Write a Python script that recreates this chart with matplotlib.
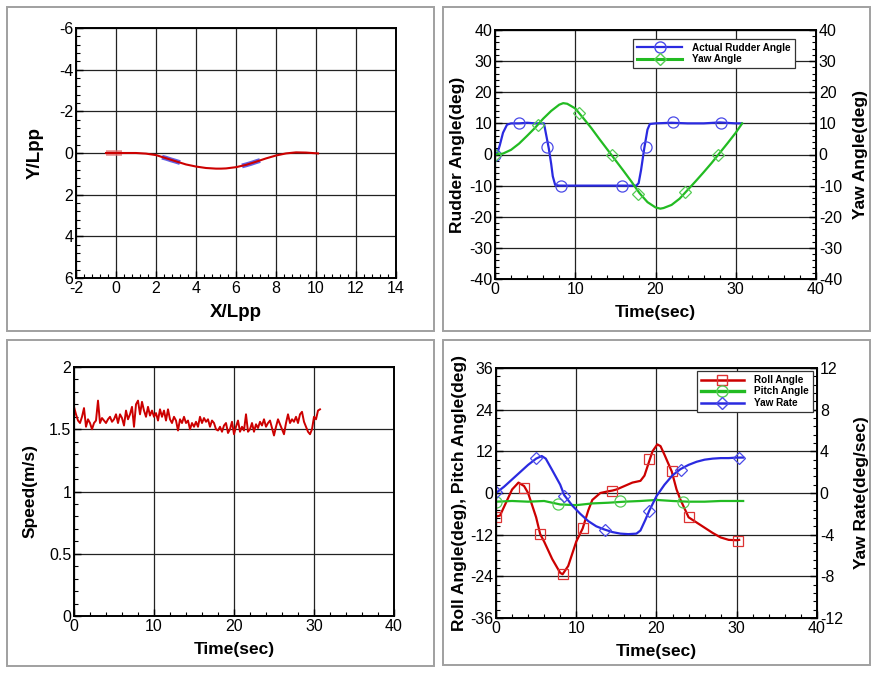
import numpy as np
import matplotlib
matplotlib.use("Agg")
import matplotlib.pyplot as plt
from matplotlib.ticker import MultipleLocator, AutoMinorLocator
from matplotlib.patches import Rectangle

plt.rcParams['font.family'] = ['Liberation Sans', 'DejaVu Sans']
plt.rcParams['axes.unicode_minus'] = False

# ---------------- data ----------------
# Panel 1: trajectory
traj_x = [-0.5, 0.0, 0.5, 1.0, 1.5, 2.0, 2.5, 3.0, 3.5, 4.0, 4.5, 5.0, 5.25, 5.5, 6.0, 6.5,
          7.0, 7.5, 8.0, 8.5, 9.0, 9.5, 10.1]
traj_y = [0.0, 0.0, 0.0, 0.0, 0.03, 0.1, 0.25, 0.4, 0.55, 0.65, 0.72, 0.75, 0.75, 0.74, 0.68,
          0.57, 0.42, 0.26, 0.12, 0.02, -0.03, -0.02, 0.02]
start_x = [-0.5, -0.1, 0.3]
start_y = [0.0, 0.0, 0.0]
seg1_x = [2.3, 2.5, 2.75, 3.0, 3.2]
seg1_y = [0.2, 0.25, 0.33, 0.4, 0.46]
seg2_x = [6.3, 6.5, 6.75, 7.0, 7.2]
seg2_y = [0.62, 0.57, 0.5, 0.42, 0.36]

# Panel 2: rudder and yaw angle
rud_t = [0, 0.3, 0.6, 1.0, 1.5, 2.0, 3, 4, 5, 6.1, 6.4, 6.7, 7.0, 7.2, 7.5, 8, 10, 12, 14, 16,
         17.6, 17.9, 18.2, 18.6, 19.0, 19.3, 20, 22, 24, 26, 28, 30, 30.7]
rud_v = [0, 0.5, 3, 7, 9.6, 10, 10, 10.2, 10, 10, 6, 2, -3, -7, -9.8, -10, -10, -10, -10, -10,
         -10, -9.2, -5, 2, 8, 9.8, 10, 10.2, 10, 10, 10.3, 10, 10]
rud_mt = [0, 3.0, 6.5, 8.2, 15.8, 18.8, 22.2, 28.1]
rud_mv = [0, 10, 2.5, -10, -10, 2.5, 10.5, 10]
yaw_t = [0, 1, 2, 3, 4, 5, 6, 7, 8, 8.5, 9, 10, 11, 12, 13, 14, 15, 16, 17, 18, 19, 20,
         20.6, 21, 22, 23, 24, 25, 26, 27, 28, 29, 30, 30.8]
yaw_v = [0, 0.3, 1.5, 3.5, 6, 8.6, 11.5, 14, 16, 16.5, 16.3, 14.8, 11.7, 8.5, 5, 1.6, -1.8,
         -5.2, -8.7, -12.4, -15.3, -17, -17.4, -17.2, -16.2, -14.2, -11.4, -8.6, -5.7, -2.7,
         0.5, 3.7, 7, 10]
yaw_mt = [0, 5.3, 10.5, 14.6, 17.8, 23.7, 27.8]
yaw_mv = [0, 9.5, 13.3, 0, -12.7, -12.2, 0]

# Panel 3: speed (sampled every 0.25 s)
speed = [1.68, 1.62, 1.57, 1.55, 1.60, 1.67, 1.52, 1.58, 1.55, 1.50, 1.55, 1.57, 1.73, 1.55,
         1.59, 1.57, 1.55, 1.58, 1.60, 1.56, 1.58, 1.62, 1.55, 1.62, 1.59, 1.53, 1.65, 1.58,
         1.62, 1.68, 1.52, 1.70, 1.73, 1.62, 1.72, 1.65, 1.60, 1.68, 1.61, 1.65, 1.60, 1.63,
         1.57, 1.66, 1.60, 1.65, 1.57, 1.66, 1.58, 1.55, 1.60, 1.57, 1.49, 1.58, 1.55, 1.60,
         1.55, 1.57, 1.50, 1.55, 1.52, 1.56, 1.52, 1.60, 1.55, 1.59, 1.56, 1.58, 1.52, 1.57,
         1.55, 1.50, 1.49, 1.52, 1.48, 1.53, 1.55, 1.47, 1.50, 1.56, 1.46, 1.52, 1.57, 1.48,
         1.52, 1.49, 1.62, 1.48, 1.50, 1.55, 1.48, 1.54, 1.51, 1.56, 1.53, 1.58, 1.52, 1.55,
         1.57, 1.51, 1.45, 1.52, 1.58, 1.54, 1.50, 1.46, 1.55, 1.62, 1.55, 1.58, 1.56, 1.60,
         1.55, 1.62, 1.64, 1.56, 1.52, 1.48, 1.46, 1.50, 1.60, 1.58, 1.65, 1.66]
speed_dt = 0.25

# Panel 4: roll, pitch, yaw rate
roll_t = [0, 0.5, 1, 2, 2.8, 3.5, 4, 5, 5.5, 6, 7, 8, 8.3, 9, 10, 10.8, 11.5, 12, 13, 14, 14.5,
          15, 16, 17, 18, 18.5, 19, 19.5, 20.1, 20.5, 21, 21.9, 22.5, 23, 24, 25, 26, 27, 28,
          29, 30, 30.3]
roll_v = [-6.8, -6.5, -4, 1, 3, 2, 0, -7, -11.8, -14, -19, -23, -23.4, -21, -14, -10.2, -5,
          -2, 0, 0.5, 0.7, 1, 2, 3, 3.5, 5, 8.5, 12, 14, 13.5, 11, 6.2, 1, -2, -7, -8.5, -10,
          -11.5, -12.8, -13.5, -13.6, -13.5]
roll_mt = [0, 3.5, 5.5, 8.3, 10.8, 14.5, 19.1, 21.9, 24.0, 30.2]
roll_mv = [-6.8, 1.3, -11.8, -23.2, -10.2, 0.7, 9.7, 6.2, -7, -13.8]
pitch_t = [0, 2, 4, 6, 8, 10, 12, 14, 16, 18, 20, 22, 24, 26, 28, 30, 30.8]
pitch_v = [-2.5, -2.3, -2.5, -2.3, -3.3, -3.5, -3.0, -2.8, -2.5, -2.3, -2.0, -2.3, -2.5, -2.5,
           -2.3, -2.3, -2.3]
pitch_mt = [0, 7.7, 15.5, 23.3]
pitch_mv = [-2.5, -3.1, -2.4, -2.6]
yr_t = [0, 1, 2, 3, 4, 5, 5.7, 6.2, 7, 8, 8.5, 9.5, 10.5, 11.5, 12.5, 13.5, 14.5, 15.5, 16.5,
        17.5, 18, 18.6, 19.1, 20, 21, 22, 23, 24, 25, 26, 27, 28, 29, 30, 30.8]
yr_v = [0, 0.6, 1.3, 2.0, 2.7, 3.3, 3.55, 3.3, 2.2, 0.8, -0.2, -1.2, -2.0, -2.7, -3.2, -3.5,
        -3.75, -3.9, -3.95, -3.9, -3.6, -2.6, -1.7, -0.3, 0.8, 1.7, 2.3, 2.7, 3.0, 3.2, 3.3,
        3.35, 3.35, 3.4, 3.4]
yr_mt = [0, 5.0, 8.5, 13.6, 19.1, 23.0, 30.3]
yr_mv = [0.1, 3.4, -0.3, -3.55, -1.7, 2.25, 3.35]

# ---------------- styling ----------------
W, H = 878, 675
fig = plt.figure(figsize=(W / 100, H / 100), dpi=100)
fig.patch.set_facecolor('white')

BLUE = '#2a2ae0'
GREEN = '#22bb22'
RED = '#cc0000'
TICK_FS = 11.5
LAB_FS = 12.5


def add_ax(x0, y0, x1, y1):
    return fig.add_axes([x0 / W, 1 - y1 / H, (x1 - x0) / W, (y1 - y0) / H])


def style(ax):
    for s in ax.spines.values():
        s.set_linewidth(1.4)
        s.set_color('black')
    ax.tick_params(which='both', direction='in', top=False,
                   right=False, labelsize=TICK_FS, pad=2)
    ax.tick_params(which='major', length=5, width=1)
    ax.tick_params(which='minor', length=3, width=0.8)
    ax.grid(True, which='major', color='#222222', linewidth=0.9)
    ax.xaxis.set_minor_locator(AutoMinorLocator(5))
    ax.yaxis.set_minor_locator(AutoMinorLocator(5))
    ax.set_axisbelow(True)


def twin_style(ax2):
    ax2.tick_params(which='both', direction='in', left=False, right=True,
                    labelsize=TICK_FS, pad=2)
    ax2.tick_params(which='major', length=5, width=1)
    ax2.tick_params(which='minor', length=3, width=0.8)
    ax2.yaxis.set_minor_locator(AutoMinorLocator(5))


# panel frames
for (x0, y0, x1, y1) in [(7, 7, 434, 331), (443, 7, 870, 331),
                         (7, 340, 434, 666), (443, 340, 870, 665)]:
    fig.patches.append(Rectangle((x0 / W, 1 - y1 / H), (x1 - x0) / W, (y1 - y0) / H,
                                 transform=fig.transFigure, fill=False,
                                 edgecolor='#a0a0a0', linewidth=1.4))

# ---- Panel 1 ----
ax1 = add_ax(76, 28, 396, 278)
style(ax1)
ax1.plot(start_x, start_y, color='#e07070', lw=4, alpha=0.8, solid_capstyle='butt')
ax1.plot(seg1_x, seg1_y, color='#5050e0', lw=3.5, alpha=0.9, solid_capstyle='butt')
ax1.plot(seg2_x, seg2_y, color='#5050e0', lw=3.5, alpha=0.9, solid_capstyle='butt')
ax1.plot(traj_x, traj_y, color=RED, lw=1.5)
ax1.set_xlim(-2, 14)
ax1.set_ylim(6, -6)
ax1.xaxis.set_major_locator(MultipleLocator(2))
ax1.yaxis.set_major_locator(MultipleLocator(2))
ax1.set_xlabel('X/Lpp', fontsize=LAB_FS + 1, fontweight='bold', labelpad=6)
ax1.set_ylabel('Y/Lpp', fontsize=LAB_FS + 1, fontweight='bold', labelpad=11)

# ---- Panel 2 ----
ax2 = add_ax(495, 30, 816, 279)
style(ax2)
ax2.plot(rud_t, rud_v, color=BLUE, lw=1.6)
ax2.plot(rud_mt, rud_mv, ls='none', marker='o', ms=8, mfc='none', mec='#4a4ae8', mew=0.9)
ax2.set_xlim(0, 40)
ax2.set_ylim(-40, 40)
ax2.xaxis.set_major_locator(MultipleLocator(10))
ax2.yaxis.set_major_locator(MultipleLocator(10))
ax2.set_xlabel('Time(sec)', fontsize=LAB_FS, fontweight='bold', labelpad=6)
ax2.set_ylabel('Rudder Angle(deg)', fontsize=LAB_FS, fontweight='bold', labelpad=3)
ax2r = ax2.twinx()
ax2r.plot(yaw_t, yaw_v, color=GREEN, lw=1.6)
ax2r.plot(yaw_mt, yaw_mv, ls='none', marker='D', ms=6, mfc='none', mec='#55cc55', mew=0.9)
ax2r.set_ylim(-40, 40)
ax2r.yaxis.set_major_locator(MultipleLocator(10))
twin_style(ax2r)
ax2r.set_ylabel('Yaw Angle(deg)', fontsize=LAB_FS, fontweight='bold', labelpad=8)
h1 = ax2.plot([], [], color=BLUE, lw=1.6, marker='o', ms=8, mfc='none', mec='#4a4ae8')[0]
h2 = ax2.plot([], [], color=GREEN, lw=2.2, marker='D', ms=6, mfc='none', mec='#55cc55')[0]
leg = ax2r.legend([h1, h2], ['Actual Rudder Angle', 'Yaw Angle'], loc='upper left',
                  bbox_to_anchor=(0.43, 0.965), borderaxespad=0, fancybox=False,
                  framealpha=1, edgecolor='#333333', handlelength=4.5, handletextpad=1.0,
                  labelspacing=0.15, borderpad=0.4,
                  prop={'size': 7.2, 'weight': 'bold'})
leg.get_frame().set_linewidth(0.9)

# ---- Panel 3 ----
ax3 = add_ax(74, 367, 394, 616)
style(ax3)
speed_t = np.arange(len(speed)) * speed_dt
ax3.plot(speed_t, speed, color=RED, lw=1.4)
ax3.set_xlim(0, 40)
ax3.set_ylim(0, 2)
ax3.xaxis.set_major_locator(MultipleLocator(10))
ax3.set_yticks([0, 0.5, 1, 1.5, 2])
ax3.set_yticklabels(['0', '0.5', '1', '1.5', '2'])
ax3.yaxis.set_minor_locator(AutoMinorLocator(5))
ax3.set_xlabel('Time(sec)', fontsize=LAB_FS, fontweight='bold', labelpad=6)
ax3.set_ylabel('Speed(m/s)', fontsize=LAB_FS, fontweight='bold', labelpad=8)

# ---- Panel 4 ----
ax4 = add_ax(496, 368, 817, 618)
style(ax4)
ax4.plot(roll_t, roll_v, color=RED, lw=1.6)
ax4.plot(roll_mt, roll_mv, ls='none', marker='s', ms=7, mfc='none', mec='#dd3333', mew=0.9)
ax4.plot(pitch_t, pitch_v, color=GREEN, lw=1.6)
ax4.plot(pitch_mt, pitch_mv, ls='none', marker='o', ms=8, mfc='none', mec='#55cc55', mew=0.9)
ax4.set_xlim(0, 40)
ax4.set_ylim(-36, 36)
ax4.xaxis.set_major_locator(MultipleLocator(10))
ax4.yaxis.set_major_locator(MultipleLocator(12))
ax4.set_xlabel('Time(sec)', fontsize=LAB_FS, fontweight='bold', labelpad=6)
ax4.set_ylabel('Roll Angle(deg), Pitch Angle(deg)', fontsize=LAB_FS, fontweight='bold',
               labelpad=2)
ax4r = ax4.twinx()
ax4r.plot(yr_t, yr_v, color=BLUE, lw=1.6)
ax4r.plot(yr_mt, yr_mv, ls='none', marker='D', ms=6, mfc='none', mec='#4a4ae8', mew=0.9)
ax4r.set_ylim(-12, 12)
ax4r.yaxis.set_major_locator(MultipleLocator(4))
twin_style(ax4r)
ax4r.set_ylabel('Yaw Rate(deg/sec)', fontsize=LAB_FS, fontweight='bold', labelpad=8)
g1 = ax4.plot([], [], color=RED, lw=1.8, marker='s', ms=7, mfc='none', mec='#dd3333')[0]
g2 = ax4.plot([], [], color=GREEN, lw=2.4, marker='o', ms=8, mfc='none', mec='#55cc55')[0]
g3 = ax4.plot([], [], color=BLUE, lw=1.8, marker='D', ms=6, mfc='none', mec='#4a4ae8')[0]
leg4 = ax4r.legend([g1, g2, g3], ['Roll Angle', 'Pitch Angle', 'Yaw Rate'], loc='upper left',
                   bbox_to_anchor=(0.626, 0.988), borderaxespad=0, fancybox=False,
                   framealpha=1, edgecolor='#333333', handlelength=4.3, handletextpad=1.0,
                   labelspacing=0.15, borderpad=0.4,
                   prop={'size': 7.2, 'weight': 'bold'})
leg4.get_frame().set_linewidth(0.9)

fig.savefig('out.png', dpi=100, facecolor='white')
